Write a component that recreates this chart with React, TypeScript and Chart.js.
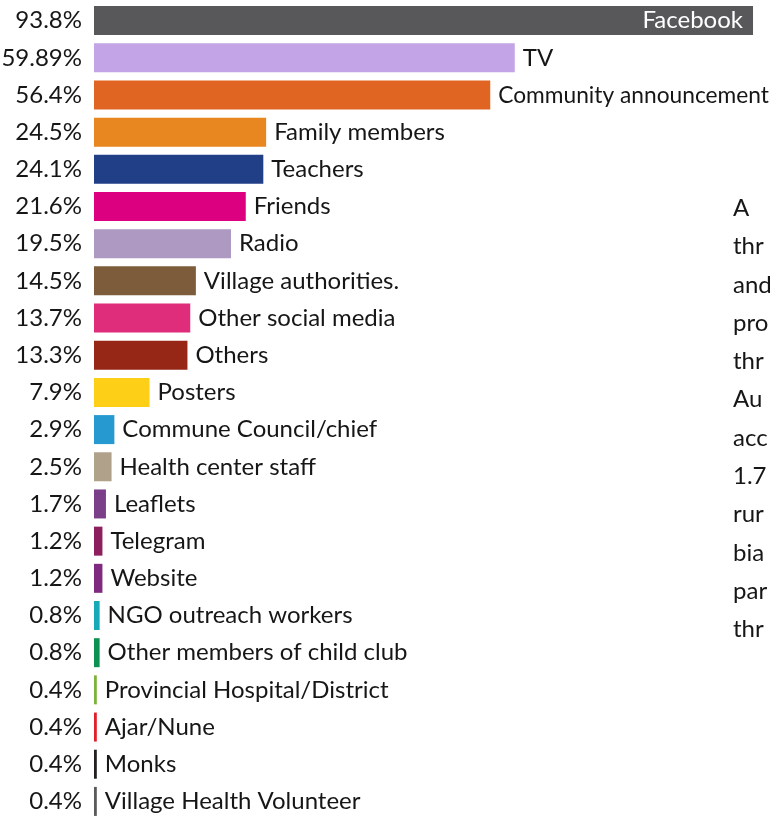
import { useEffect, useRef } from "react";
import { Chart, registerables } from "chart.js";

Chart.register(...registerables);

// Sources of information, ordered by share of respondents (%)
const categories = [
  "Facebook",
  "TV",
  "Community announcement",
  "Family members",
  "Teachers",
  "Friends",
  "Radio",
  "Village authorities.",
  "Other social media",
  "Others",
  "Posters",
  "Commune Council/chief",
  "Health center staff",
  "Leaflets",
  "Telegram",
  "Website",
  "NGO outreach workers",
  "Other members of child club",
  "Provincial Hospital/District",
  "Ajar/Nune",
  "Monks",
  "Village Health Volunteer",
];

const shares = [
  93.8, 59.89, 56.4, 24.5, 24.1, 21.6, 19.5, 14.5, 13.7, 13.3, 7.9, 2.9, 2.5, 1.7,
  1.2, 1.2, 0.8, 0.8, 0.4, 0.4, 0.4, 0.4,
];

const shareLabels = [
  "93.8%", "59.89%", "56.4%", "24.5%", "24.1%", "21.6%", "19.5%", "14.5%", "13.7%",
  "13.3%", "7.9%", "2.9%", "2.5%", "1.7%", "1.2%", "1.2%", "0.8%", "0.8%", "0.4%",
  "0.4%", "0.4%", "0.4%",
];

const barColors = [
  "#58585a", "#c3a4e6", "#e06523", "#e8861f", "#213f87", "#dc0080", "#ad99c2",
  "#7d5c3b", "#df2d7b", "#962717", "#fecf17", "#2799d1", "#b0a18a", "#7b3f8a",
  "#8e1f5f", "#7f2a80", "#17a9b7", "#0d9150", "#7db33c", "#e2202a", "#231f20",
  "#5a5a5c",
];

// Opening words of the accompanying paragraph, running off the right edge
const paragraphLines = ["A", "thr", "and", "pro", "thr", "Au", "acc", "1.7", "rur", "bia", "par", "thr"];

const FONT = "Lato, 'Noto Sans', sans-serif";
const TEXT_COLOR = "#161616";

const barLabelPlugin = {
  id: "barLabels",
  afterDatasetsDraw(chart: any) {
    const ctx = chart.ctx as CanvasRenderingContext2D;
    const meta = chart.getDatasetMeta(0);
    const right = chart.width - 2;
    ctx.save();
    ctx.font = `24px ${FONT}`;
    ctx.textBaseline = "middle";
    meta.data.forEach((bar: any, i: number) => {
      const { x, y, base } = bar.getProps(["x", "y", "base"], true);
      ctx.fillStyle = TEXT_COLOR;
      ctx.textAlign = "right";
      ctx.fillText(shareLabels[i], base - 12, y);
      if (i === 0) {
        ctx.fillStyle = "#ffffff";
        ctx.textAlign = "right";
        ctx.fillText(categories[i], x - 10, y);
      } else {
        ctx.fillStyle = TEXT_COLOR;
        ctx.textAlign = "left";
        const start = x + 8;
        const width = ctx.measureText(categories[i]).width;
        if (start + width > right) {
          ctx.fillText(categories[i], start, y, right - start);
        } else {
          ctx.fillText(categories[i], start, y);
        }
      }
    });
    ctx.restore();
  },
};

export default function App() {
  const canvasRef = useRef<HTMLCanvasElement | null>(null);

  useEffect(() => {
    if (!canvasRef.current) return;
    const chart = new Chart(canvasRef.current, {
      type: "bar",
      data: {
        labels: categories,
        datasets: [
          {
            data: shares,
            backgroundColor: barColors,
            borderWidth: 0,
            barPercentage: 0.78,
            categoryPercentage: 1,
          },
        ],
      },
      options: {
        indexAxis: "y",
        responsive: false,
        animation: false,
        layout: { padding: { left: 94, right: 0, top: 2, bottom: 2 } },
        scales: {
          x: { display: false, min: 0, max: 96.36 },
          y: { display: false },
        },
        plugins: {
          legend: { display: false },
          tooltip: { enabled: false },
        },
      },
      plugins: [barLabelPlugin],
    });
    return () => chart.destroy();
  }, []);

  return (
    <div
      style={{
        position: "fixed",
        left: 0,
        top: 0,
        width: 771,
        height: 817,
        overflow: "hidden",
        background: "#ffffff",
      }}
    >
      <canvas ref={canvasRef} width={771} height={822} style={{ display: "block" }} />
      <div
        style={{
          position: "absolute",
          left: 733,
          top: 188,
          width: 38,
          overflow: "hidden",
          fontFamily: FONT,
          fontSize: 24,
          lineHeight: "38.3px",
          color: TEXT_COLOR,
          whiteSpace: "nowrap",
        }}
      >
        {paragraphLines.map((line, i) => (
          <div key={i}>{line}</div>
        ))}
      </div>
    </div>
  );
}
